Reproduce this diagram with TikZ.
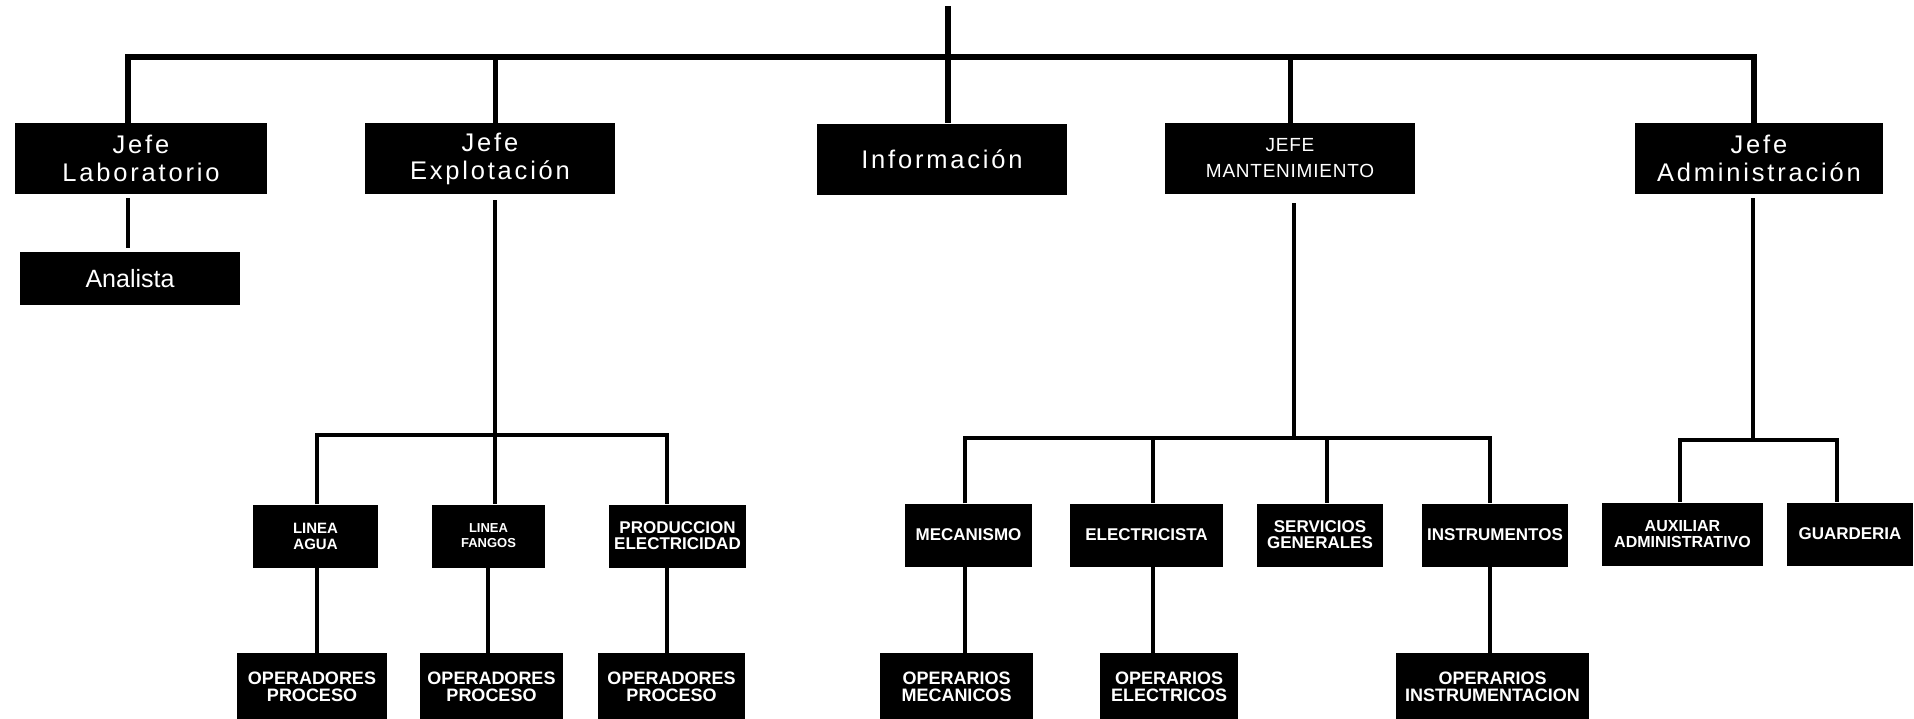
\documentclass[tikz,border=0pt]{standalone}
\usepackage{fontspec}
\newfontfamily\fA[LetterSpace=11]{Liberation Sans}
\newfontfamily\fM[LetterSpace=4]{Liberation Sans}
\newfontfamily\fB{Liberation Sans}
\tikzset{
  box/.style={fill=black, text=white, inner sep=0pt, align=center, anchor=center},
  lone/.style={box, minimum height=71pt, font=\fA\fontsize{25.5}{28}\selectfont},
  lmant/.style={box, minimum height=71pt, font=\fM\fontsize{19}{26}\selectfont},
  ltwo/.style={box, minimum height=63pt, font=\fB\bfseries\fontsize{17}{16}\selectfont},
  lthree/.style={box, minimum height=67pt, font=\fB\bfseries\fontsize{18}{17}\selectfont},
  busline/.style={line width=6pt, line join=miter},
  dropline/.style={line width=5pt},
  link/.style={line width=3.5pt, line join=miter}
}
\begin{document}
\begin{tikzpicture}[x=1pt, y=-1pt]
\useasboundingbox (0,0) rectangle (1914,718);
\begin{scope}
\clip (0,0) rectangle (1914,718);
% level 1
\node[lone, minimum width=252pt] (lab) at (141,158.5) {Jefe\\Laboratorio};
\node[lone, minimum width=250pt] (exp) at (490,158.5) {Jefe\\Explotación};
\node[lone, minimum width=250pt] (inf) at (942,159) {Información};
\node[lmant, minimum width=250pt] (mant) at (1290,158.5) {JEFE\\MANTENIMIENTO};
\node[lone, minimum width=248pt] (adm) at (1759,158.5) {Jefe\\Administración};
% analista
\node[box, minimum width=220pt, minimum height=53pt, font=\fB\fontsize{25}{25}\selectfont] (ana) at (130,278.5) {Analista};
% explotacion subtree
\node[ltwo, minimum width=125pt, font=\fB\bfseries\fontsize{15}{16}\selectfont] (agua) at (315.5,536) {LINEA\\AGUA};
\node[ltwo, minimum width=113pt, font=\fB\bfseries\fontsize{13}{15}\selectfont] (fang) at (488.5,536) {LINEA\\FANGOS};
\node[ltwo, minimum width=137pt] (prod) at (677.5,536) {PRODUCCION\\ELECTRICIDAD};
\node[lthree, minimum width=150pt] (opa) at (312,686.5) {OPERADORES\\PROCESO};
\node[lthree, minimum width=143pt] (opb) at (491.5,686.5) {OPERADORES\\PROCESO};
\node[lthree, minimum width=147pt] (opc) at (671.5,686.5) {OPERADORES\\PROCESO};
% mantenimiento subtree
\node[ltwo, minimum width=127pt] (mec) at (968.5,535) {MECANISMO};
\node[ltwo, minimum width=153pt] (ele) at (1146.5,535) {ELECTRICISTA};
\node[ltwo, minimum width=126pt] (serv) at (1320,535) {SERVICIOS\\GENERALES};
\node[ltwo, minimum width=146pt] (inst) at (1495,535) {INSTRUMENTOS};
\node[lthree, minimum width=153pt] (opm) at (956.5,686.5) {OPERARIOS\\MECANICOS};
\node[lthree, minimum width=138pt] (ope) at (1169,686.5) {OPERARIOS\\ELECTRICOS};
\node[lthree, minimum width=193pt] (opi) at (1492.5,686.5) {OPERARIOS\\INSTRUMENTACION};
% administracion subtree
\node[ltwo, minimum width=161pt, font=\fB\bfseries\fontsize{16}{16}\selectfont] (aux) at (1682.5,534) {AUXILIAR\\ADMINISTRATIVO};
\node[ltwo, minimum width=126pt] (guard) at (1850,534) {GUARDERIA};
\end{scope}
% top structure
\coordinate (root) at (948,6);
\coordinate (ba) at (128,57);
\coordinate (bb) at (495,57);
\coordinate (bd) at (1290,57);
\coordinate (be) at (1754,57);
\draw[busline] (root) -- (root |- inf.north);
\draw[busline] (ba |- lab.north) -- (ba) -- (be) -- (be |- adm.north);
\draw[dropline] (bb) -- (bb |- exp.north);
\draw[dropline] (bd) -- (bd |- mant.north);
% analista
\draw[link, shorten <=4pt, shorten >=4pt] (ba |- lab.south) -- (ba |- ana.north);
% explotacion
\coordinate (eb) at (495,435);
\coordinate (ea) at (317,435);
\coordinate (ec) at (667,435);
\coordinate (xf) at (488,0);
\draw[link, shorten <=6pt] (eb |- exp.south) -- (eb);
\draw[link] (ea |- agua.north) -- (ea) -- (ec) -- (ec |- prod.north);
\draw[link] (eb) -- (eb |- fang.north);
\draw[link] (ea |- agua.south) -- (ea |- opa.north);
\draw[link] (xf |- fang.south) -- (xf |- opb.north);
\draw[link] (ec |- prod.south) -- (ec |- opc.north);
% mantenimiento
\coordinate (mb) at (1294,438);
\coordinate (ma) at (965,438);
\coordinate (mc) at (1153,438);
\coordinate (md) at (1327,438);
\coordinate (me) at (1490,438);
\draw[link, shorten <=9pt] (mb |- mant.south) -- (mb);
\draw[link] (ma |- mec.north) -- (ma) -- (me) -- (me |- inst.north);
\draw[link] (mc) -- (mc |- ele.north);
\draw[link] (md) -- (md |- serv.north);
\draw[link] (ma |- mec.south) -- (ma |- opm.north);
\draw[link] (mc |- ele.south) -- (mc |- ope.north);
\draw[link] (me |- inst.south) -- (me |- opi.north);
% administracion
\coordinate (ab) at (1753,440);
\coordinate (aa) at (1680,440);
\coordinate (ac) at (1837,440);
\draw[link, shorten <=4pt] (ab |- adm.south) -- (ab);
\draw[link] (aa |- aux.north) -- (aa) -- (ac) -- (ac |- guard.north);
\end{tikzpicture}
\end{document}
